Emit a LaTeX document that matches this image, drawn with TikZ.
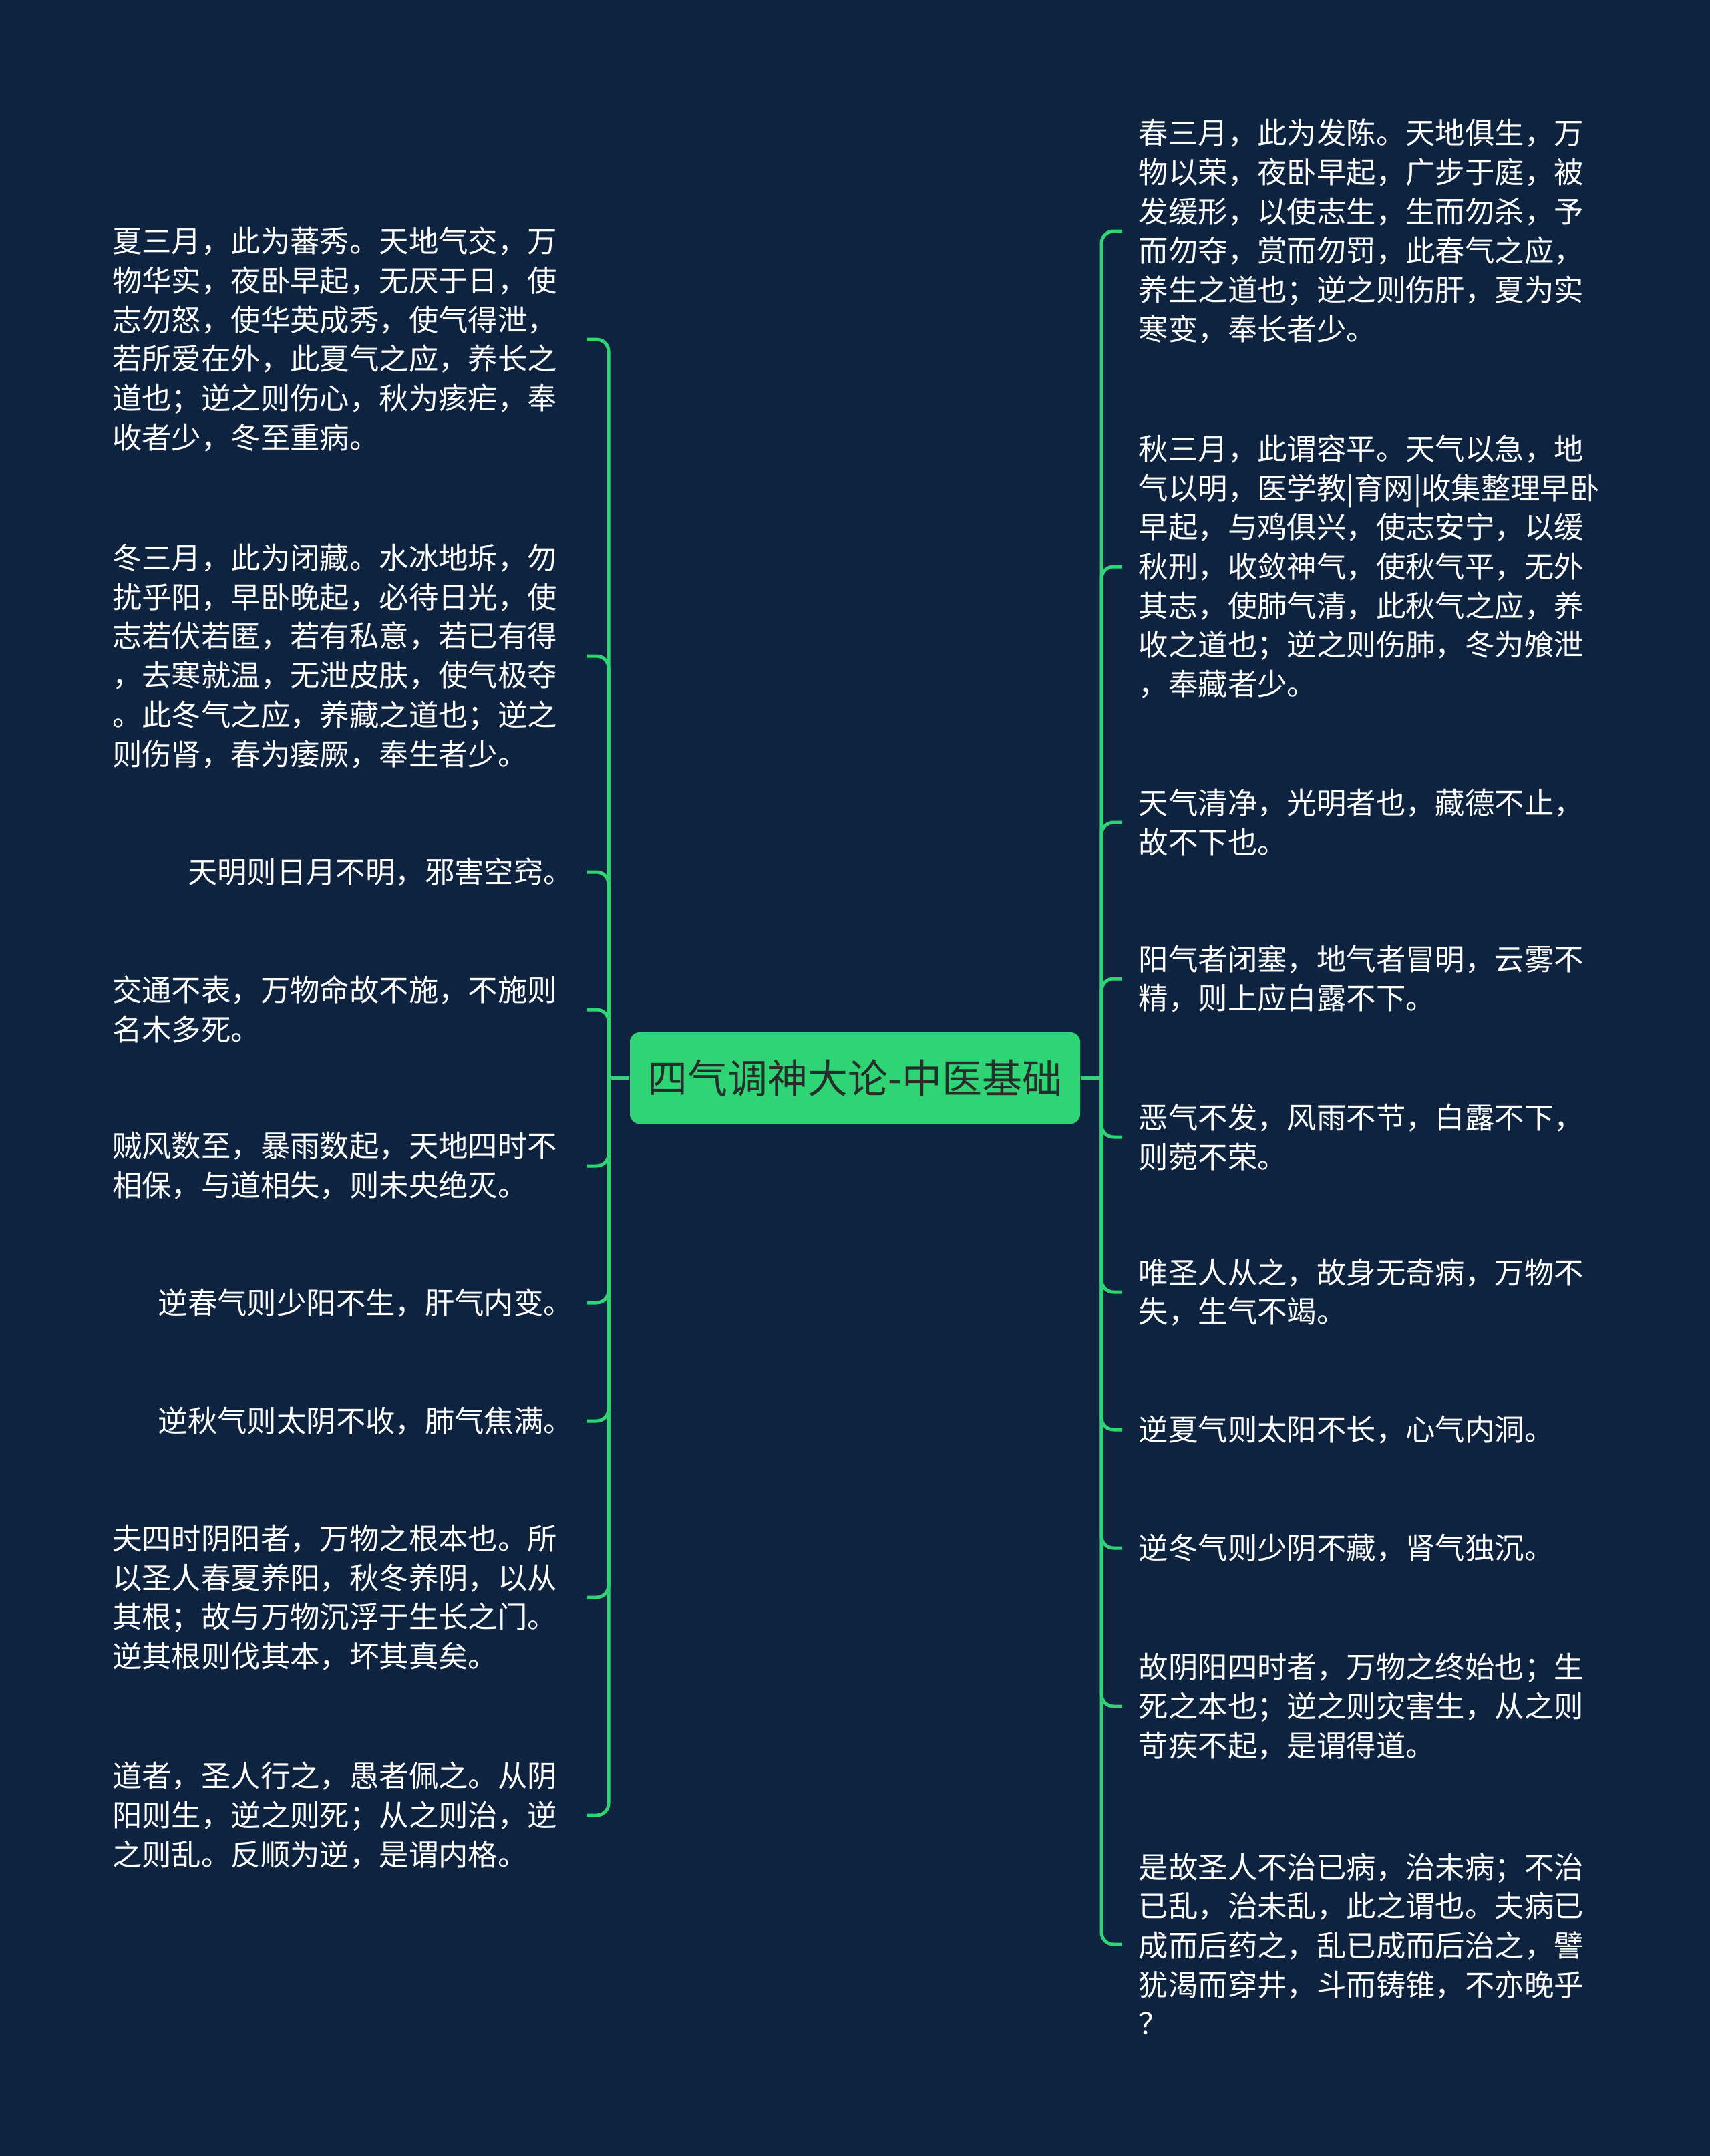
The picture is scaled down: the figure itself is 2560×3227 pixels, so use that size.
\documentclass[tikz,border=0pt]{standalone}
\usepackage{fontspec}
\setmainfont{Noto Sans CJK SC}
\definecolor{bgcol}{HTML}{0E2340}
\definecolor{lgreen}{HTML}{2FD574}
\definecolor{titlecol}{HTML}{262E2B}
\tikzset{
  conn/.style={draw=lgreen, line width=1.25pt},
  branch/.style={conn, rounded corners=4.5pt},
  rootbox/.style={fill=lgreen, rounded corners=3.5pt, minimum width=168.5pt, minimum height=34.25pt,
    inner sep=0pt, text=titlecol, font=\fontsize{15pt}{18pt}\selectfont},
  ltext/.style={anchor=east, inner xsep=11pt, inner ysep=0pt, align=left, text=white,
    font=\fontsize{11.1pt}{14.67pt}\selectfont},
  lsingle/.style={ltext, inner xsep=5pt},
  rtext/.style={anchor=west, inner xsep=6pt, inner ysep=0pt, align=left, text=white,
    font=\fontsize{11.1pt}{14.67pt}\selectfont}
}
\begin{document}
\begin{tikzpicture}[x=0.25pt, y=-0.25pt]
\fill[bgcol] (0,0) rectangle (2560,3227);
\useasboundingbox (0,0) rectangle (2560,3227);

\node[rootbox] (root) at (1280,1613.5) {四气调神大论-中医基础};
\coordinate (jl) at (911,1613.5);
\coordinate (jr) at (1649,1613.5);

% left texts
\node[ltext] (l1) at (879,508) {夏三月，此为蕃秀。天地气交，万\\物华实，夜卧早起，无厌于日，使\\志勿怒，使华英成秀，使气得泄，\\若所爱在外，此夏气之应，养长之\\道也；逆之则伤心，秋为痎疟，奉\\收者少，冬至重病。};
\node[ltext] (l2) at (879,982) {冬三月，此为闭藏。水冰地坼，勿\\扰乎阳，早卧晚起，必待日光，使\\志若伏若匿，若有私意，若已有得\\，去寒就温，无泄皮肤，使气极夺\\。此冬气之应，养藏之道也；逆之\\则伤肾，春为痿厥，奉生者少。};
\node[lsingle] (l3) at (879,1305) {天明则日月不明，邪害空窍。};
\node[ltext] (l4) at (879,1511) {交通不表，万物命故不施，不施则\\名木多死。};
\node[ltext] (l5) at (879,1745) {贼风数至，暴雨数起，天地四时不\\相保，与道相失，则未央绝灭。};
\node[lsingle] (l6) at (879,1950) {逆春气则少阳不生，肝气内变。};
\node[lsingle] (l7) at (879,2127) {逆秋气则太阴不收，肺气焦满。};
\node[ltext] (l8) at (879,2391) {夫四时阴阳者，万物之根本也。所\\以圣人春夏养阳，秋冬养阴，以从\\其根；故与万物沉浮于生长之门。\\逆其根则伐其本，坏其真矣。};
\node[ltext] (l9) at (879,2717) {道者，圣人行之，愚者佩之。从阴\\阳则生，逆之则死；从之则治，逆\\之则乱。反顺为逆，是谓内格。};

% right texts
\node[rtext] (r1) at (1680,346) {春三月，此为发陈。天地俱生，万\\物以荣，夜卧早起，广步于庭，被\\发缓形，以使志生，生而勿杀，予\\而勿夺，赏而勿罚，此春气之应，\\养生之道也；逆之则伤肝，夏为实\\寒变，奉长者少。};
\node[rtext] (r2) at (1680,848) {秋三月，此谓容平。天气以急，地\\气以明，医学教|育网|收集整理早卧\\早起，与鸡俱兴，使志安宁，以缓\\秋刑，收敛神气，使秋气平，无外\\其志，使肺气清，此秋气之应，养\\收之道也；逆之则伤肺，冬为飧泄\\，奉藏者少。};
\node[rtext] (r3) at (1680,1231) {天气清净，光明者也，藏德不止，\\故不下也。};
\node[rtext] (r4) at (1680,1465) {阳气者闭塞，地气者冒明，云雾不\\精，则上应白露不下。};
\node[rtext] (r5) at (1680,1702) {恶气不发，风雨不节，白露不下，\\则菀不荣。};
\node[rtext] (r6) at (1680,1934) {唯圣人从之，故身无奇病，万物不\\失，生气不竭。};
\node[rtext] (r7) at (1680,2140) {逆夏气则太阳不长，心气内洞。};
\node[rtext] (r8) at (1680,2317) {逆冬气则少阴不藏，肾气独沉。};
\node[rtext] (r9) at (1680,2554) {故阴阳四时者，万物之终始也；生\\死之本也；逆之则灾害生，从之则\\苛疾不起，是谓得道。};
\node[rtext] (r10) at (1680,2910) {是故圣人不治已病，治未病；不治\\已乱，治未乱，此之谓也。夫病已\\成而后药之，乱已成而后治之，譬\\犹渴而穿井，斗而铸锥，不亦晚乎\\？};

% connectors
\draw[conn] (root.west) -- (jl);
\draw[conn] (root.east) -- (jr);
\foreach \n in {l1,l2,l3,l4,l5,l6,l7,l8,l9}
  \draw[branch] (jl) |- (\n.east);
\foreach \n in {r1,r2,r3,r4,r5,r6,r7,r8,r9,r10}
  \draw[branch] (jr) |- (\n.west);
\end{tikzpicture}
\end{document}
